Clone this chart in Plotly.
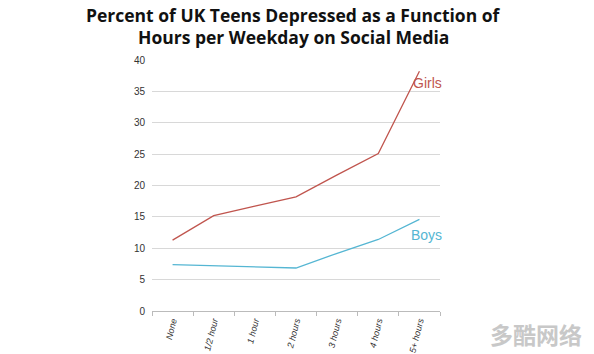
import plotly.graph_objects as go

categories = ["None", "1/2 hour", "1 hour", "2 hours", "3 hours", "4 hours", "5+ hours"]
girls = [11.3, 15.2, 16.7, 18.2, 21.7, 25.1, 38.2]
boys = [7.4, 7.2, 7.0, 6.85, 9.2, 11.4, 14.6]
y_ticks = [0, 5, 10, 15, 20, 25, 30, 35, 40]

girls_color = "#c0554e"
boys_color = "#55b6d3"

fig = go.Figure()
fig.add_trace(go.Scatter(x=categories, y=girls, mode="lines",
                         line=dict(color=girls_color, width=1.3), name="Girls"))
fig.add_trace(go.Scatter(x=categories, y=boys, mode="lines",
                         line=dict(color=boys_color, width=1.3), name="Boys"))

fig.update_layout(
    width=594, height=354,
    margin=dict(l=152, r=154, t=60, b=43, autoexpand=False),
    paper_bgcolor="white", plot_bgcolor="white",
    showlegend=False,
    font=dict(family="Liberation Sans", color="#333"),
)
fig.update_xaxes(
    type="category", categoryorder="array", categoryarray=categories,
    tickson="boundaries", ticks="outside", ticklen=4, tickcolor="#bbb",
    showline=True, linecolor="#bbb", linewidth=1,
    showgrid=False, tickangle=-76, automargin=False,
    tickfont=dict(size=9, style="italic", color="#333"),
    range=[-0.5, 6.5],
)
fig.update_yaxes(
    range=[0, 40], tickvals=y_ticks, automargin=False,
    showgrid=True, gridcolor="#d8d8d8", gridwidth=1,
    zeroline=False, showline=False,
    tickfont=dict(size=10, color="#333"), ticks="", ticklabelstandoff=6,
)
fig.add_annotation(text="<b>Percent of UK Teens Depressed as a Function of</b>",
                   xref="paper", yref="paper", x=0.49, xanchor="center",
                   y=1 + (60 - 15) / 251, yanchor="middle", showarrow=False,
                   font=dict(family="Open Sans", size=17.5, color="#111"))
fig.add_annotation(text="<b>Hours per Weekday on Social Media</b>",
                   xref="paper", yref="paper", x=0.49, xanchor="center",
                   y=1 + (60 - 37) / 251, yanchor="middle", showarrow=False,
                   font=dict(family="Open Sans", size=17.5, color="#111"))
fig.add_annotation(text="Girls", xref="paper", x=1.015, xanchor="right", y=36.4,
                   yref="y", showarrow=False, font=dict(size=14, color=girls_color))
fig.add_annotation(text="Boys", xref="paper", x=1.015, xanchor="right", y=12.1,
                   yref="y", showarrow=False, font=dict(size=14, color=boys_color))
fig.add_annotation(text="<b>多酷网络</b>", xref="paper", yref="paper", x=1.5, y=-0.015,
                   xanchor="right", yanchor="top", showarrow=False,
                   font=dict(family="Noto Sans CJK SC", size=23, color="#c8c8c8"))

fig.write_html("out.html")
